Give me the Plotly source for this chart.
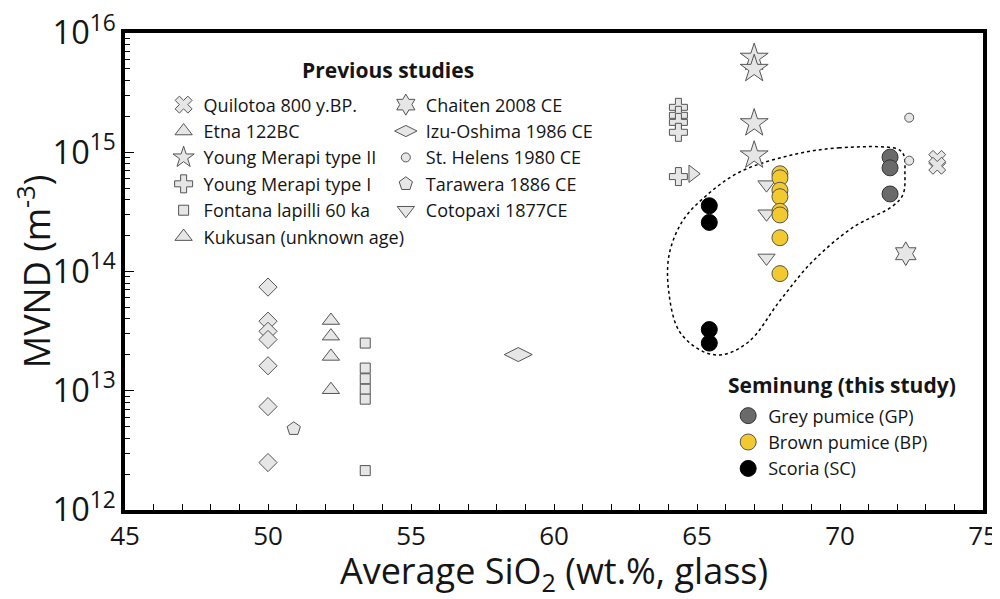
import plotly.graph_objects as go

FONT = "Open Sans"

# ---------------- data (SiO2 wt.%, MVND m^-3) ----------------
quilotoa_x = [73.4, 73.4]
quilotoa_y = [8.8e14, 7.7e14]

etna_x = [52.2, 52.2]
etna_y = [1.94e13, 1.02e13]

ym2_x = [67.0, 67.0, 67.0, 67.0]
ym2_y = [6.2e15, 5.0e15, 1.75e15, 9.4e14]

ym1_x = [64.35, 64.35, 64.35, 64.35, 64.35]
ym1_y = [2.38e15, 2.04e15, 1.78e15, 1.47e15, 6.25e14]

fontana_x = [53.4, 53.4, 53.4, 53.4, 53.4, 53.4]
fontana_y = [2.51e13, 1.55e13, 1.26e13, 1.03e13, 8.5e12, 2.14e12]

kukusan_x = [52.2, 52.2]
kukusan_y = [3.88e13, 2.87e13]

chaiten_x = [72.3]
chaiten_y = [1.41e14]

izu_x = [58.75]
izu_y = [2.01e13]

helens_x = [72.42, 72.42]
helens_y = [1.95e15, 8.5e14]

tarawera_x = [50.9]
tarawera_y = [4.8e12]

cotopaxi_x = [67.43, 67.43, 67.43]
cotopaxi_y = [5.35e14, 3.05e14, 1.3e14]

basalt50_x = [50.0, 50.0, 50.0, 50.0, 50.0, 50.0, 50.0]
basalt50_y = [7.4e13, 3.83e13, 3.15e13, 2.69e13, 1.62e13, 7.36e12, 2.5e12]

tri_right_x = [64.85]
tri_right_y = [6.6e14]

gp_x = [71.75, 71.75, 71.75]
gp_y = [9.1e14, 7.4e14, 4.47e14]

bp_x = [67.9] * 8
bp_y = [6.6e14, 6.1e14, 4.8e14, 4.24e14, 3.2e14, 2.98e14, 1.92e14, 9.6e13]

sc_x = [65.43, 65.43, 65.43, 65.43]
sc_y = [3.56e14, 2.58e14, 3.26e13, 2.51e13]

# envelope (dashed outline around Seminung samples)
env_x = [71.98, 69.99, 68.24, 66.48, 65.32, 64.50, 64.03, 64.01, 64.38, 65.20,
         65.90, 66.83, 67.89, 69.05, 70.45, 71.86, 72.21, 72.27, 72.21, 71.98]
env_y = [1.07e15, 1.09e15, 9.4e14, 6.8e14, 4.32e14, 2.66e14, 1.40e14, 6.85e13,
         3.16e13, 2.14e13, 2.01e13, 2.6e13, 5.65e13, 1.22e14, 2.34e14, 3.56e14,
         4.47e14, 6.59e14, 9.7e14, 1.07e15]

x_ticks = [45, 50, 55, 60, 65, 70, 75]

# ---------------- figure ----------------
GFILL = "#e6e6e6"
GLINE = "#555555"
TXT = "#151515"

fig = go.Figure()

fig.add_trace(go.Scatter(x=env_x, y=env_y, mode="lines",
                         line=dict(color="black", width=1.5, dash="dot", shape="spline", smoothing=1.0),
                         showlegend=False, hoverinfo="skip"))


def prev(name, x, y, symbol, size, legend, show=True):
    fig.add_trace(go.Scatter(
        x=x, y=y, mode="markers", name=name, legend=legend, legendgroup=name,
        showlegend=show,
        marker=dict(symbol=symbol, size=size, color=GFILL,
                    line=dict(color=GLINE, width=1))))


prev("Quilotoa 800 y.BP.", quilotoa_x, quilotoa_y, "x", 15, "legend")
prev("Etna 122BC", etna_x, etna_y, "triangle-up", 15, "legend")
prev("Young Merapi type II", ym2_x, ym2_y, "star", 21, "legend")
prev("Young Merapi type I", ym1_x, ym1_y, "cross", 15, "legend")
prev("Fontana lapilli 60 ka", fontana_x, fontana_y, "square", 10, "legend")
prev("Kukusan (unknown age)", kukusan_x, kukusan_y, "triangle-up", 15, "legend")
prev("Chaiten 2008 CE", chaiten_x, chaiten_y, "hexagram", 18, "legend2")
prev("Izu-Oshima 1986 CE", izu_x, izu_y, "diamond-wide", 20, "legend2")
prev("St. Helens 1980 CE", helens_x, helens_y, "circle", 9, "legend2")
prev("Tarawera 1886 CE", tarawera_x, tarawera_y, "pentagon", 14, "legend2")
prev("Cotopaxi 1877CE", cotopaxi_x, cotopaxi_y, "triangle-down", 15, "legend2")
prev("basalt 50", basalt50_x, basalt50_y, "diamond", 14, "legend2", show=False)
prev("tri right", tri_right_x, tri_right_y, "triangle-right", 15, "legend2", show=False)


def sem(name, x, y, fill, line):
    fig.add_trace(go.Scatter(
        x=x, y=y, mode="markers", name=name, legend="legend3", legendgroup=name,
        marker=dict(symbol="circle", size=16, color=fill, line=dict(color=line, width=1))))


sem("Grey pumice (GP)", gp_x, gp_y, "#6a6a6a", "#333333")
sem("Brown pumice (BP)", bp_x, bp_y, "#f2c92e", "#555555")
sem("Scoria (SC)", sc_x, sc_y, "#000000", "#000000")


def leg(x, y, gap):
    return dict(x=x, y=y, xanchor="left", yanchor="top", bgcolor="rgba(0,0,0,0)",
                font=dict(family=FONT, size=18, color=TXT),
                tracegroupgap=gap, traceorder="normal", itemclick=False)


# page body has an 8px default margin, so the figure is 992x591
fig.update_layout(
    width=992, height=591,
    margin=dict(l=117, r=17, t=25, b=89),
    paper_bgcolor="white", plot_bgcolor="white",
    font=dict(family=FONT, color=TXT),
    legend=leg(0.045, 0.888, 2),
    legend2=leg(0.304, 0.888, 2),
    legend3=leg(0.703, 0.236, 0),
    xaxis=dict(range=[45, 75], tickvals=x_ticks, ticks="inside", ticklen=6, tickwidth=1,
               tickcolor="black", showline=True, linecolor="black", linewidth=4, mirror=True,
               showgrid=False, zeroline=False, automargin=False, ticklabeloverflow="allow",
               tickfont=dict(family=FONT, size=26, color=TXT),
               minor=dict(dtick=1, ticks="inside", ticklen=6, tickwidth=1, tickcolor="black", showgrid=False),
               title=dict(text="Average SiO<sub>2</sub> (wt.%, glass)",
                          font=dict(family=FONT, size=36, color=TXT), standoff=10)),
    yaxis=dict(type="log", range=[12, 16], dtick=1, exponentformat="power", ticks="inside",
               ticklen=9, tickwidth=1, tickcolor="black", showline=True, linecolor="black",
               linewidth=4, mirror=True, showgrid=False, zeroline=False, automargin=False,
               ticklabeloverflow="allow",
               tickfont=dict(family=FONT, size=26, color=TXT),
               minor=dict(dtick="D1", ticks="inside", ticklen=5, tickwidth=1, tickcolor="black", showgrid=False),
               title=dict(text="MVND (m<sup>-3</sup>)",
                          font=dict(family=FONT, size=36, color=TXT), standoff=8)),
    annotations=[
        dict(text="<b>Previous studies</b>", x=0.306, y=0.922, xref="paper", yref="paper",
             showarrow=False, xanchor="center", yanchor="middle",
             font=dict(family=FONT, size=21, color=TXT)),
        dict(text="<b>Seminung (this study)</b>", x=0.836, y=0.262, xref="paper", yref="paper",
             showarrow=False, xanchor="center", yanchor="middle",
             font=dict(family=FONT, size=21, color=TXT)),
    ],
)

fig.write_html("out.html")
